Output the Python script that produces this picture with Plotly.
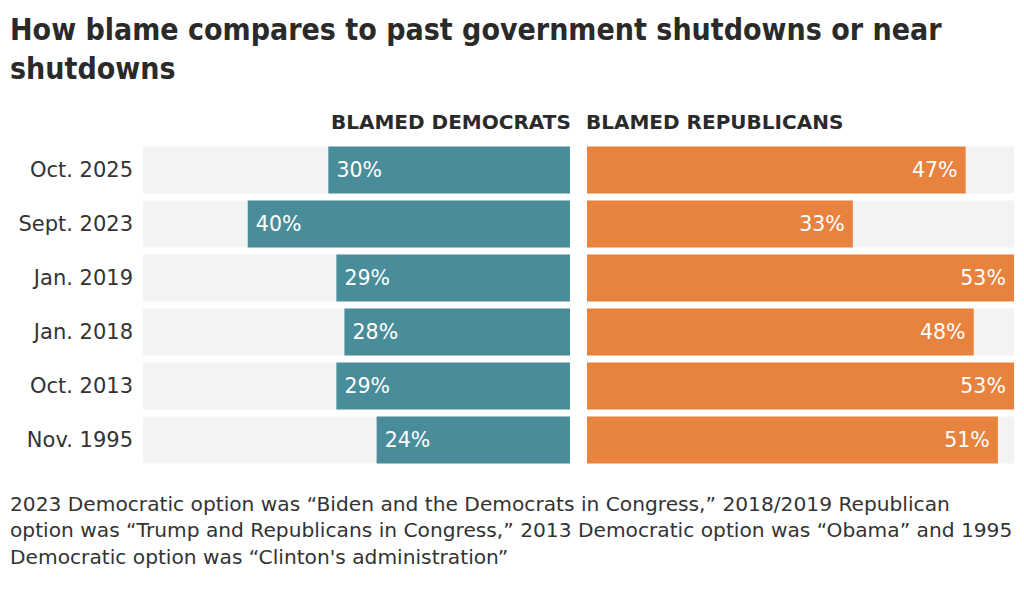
import plotly.graph_objects as go

categories = ["Oct. 2025", "Sept. 2023", "Jan. 2019", "Jan. 2018", "Oct. 2013", "Nov. 1995"]
blamed_democrats = [30, 40, 29, 28, 29, 24]
blamed_republicans = [47, 33, 53, 48, 53, 51]
axis_max = 53

FONT = "DejaVu Sans, sans-serif"
TITLE_FONT = "DejaVu Sans Condensed, DejaVu Sans, sans-serif"
TEAL = "#4a8d9a"
ORANGE = "#e8833f"
TRACK = "#f3f3f3"
PAD = "\u2005"  # small padding between bar tip and its label

# The page body has an 8px margin; the figure is sized so the page fits 1024x603 exactly.
OFF = 8
W, H = 1024 - 2 * OFF, 603 - 2 * OFF
PLOT_TOP, PLOT_BOT = 143, 467  # page pixels


def px(x):
    return (x - OFF) / W


def py(y):
    return (PLOT_BOT - y) / (PLOT_BOT - PLOT_TOP)


fig = go.Figure()
fig.add_trace(go.Bar(y=categories, x=[axis_max] * len(categories), orientation="h",
                     marker=dict(color=TRACK, line=dict(width=0)), xaxis="x", yaxis="y",
                     hoverinfo="skip", showlegend=False))
fig.add_trace(go.Bar(y=categories, x=[axis_max] * len(categories), orientation="h",
                     marker=dict(color=TRACK, line=dict(width=0)), xaxis="x2", yaxis="y2",
                     hoverinfo="skip", showlegend=False))
fig.add_trace(go.Bar(y=categories, x=blamed_democrats, orientation="h",
                     marker=dict(color=TEAL, line=dict(width=0)), xaxis="x", yaxis="y",
                     text=[f"{PAD}{v}%" for v in blamed_democrats], textposition="inside",
                     insidetextanchor="end", textangle=0,
                     textfont=dict(color="white", size=20.5, family=FONT),
                     showlegend=False, name="Blamed Democrats"))
fig.add_trace(go.Bar(y=categories, x=blamed_republicans, orientation="h",
                     marker=dict(color=ORANGE, line=dict(width=0)), xaxis="x2", yaxis="y2",
                     text=[f"{v}%{PAD}" for v in blamed_republicans], textposition="inside",
                     insidetextanchor="end", textangle=0,
                     textfont=dict(color="white", size=20.5, family=FONT),
                     showlegend=False, name="Blamed Republicans"))

fig.update_layout(
    width=W, height=H,
    barmode="overlay", bargap=0.13,
    plot_bgcolor="white", paper_bgcolor="white",
    margin=dict(l=0, r=0, t=PLOT_TOP - OFF, b=H - (PLOT_BOT - OFF)),
    font=dict(family=FONT, color="#333333"),
    xaxis=dict(domain=[px(143), px(570)], range=[axis_max, 0], visible=False, fixedrange=True),
    xaxis2=dict(domain=[px(587), px(1014)], range=[0, axis_max], visible=False, fixedrange=True),
    yaxis=dict(anchor="x", autorange="reversed", showgrid=False, zeroline=False, showline=False,
               ticks="", tickfont=dict(size=21, color="#333333", family=FONT), automargin=False,
               ticklabelstandoff=9),
    yaxis2=dict(anchor="x2", matches="y", autorange="reversed", showticklabels=False,
                showgrid=False, zeroline=False, showline=False),
    annotations=[
        dict(text="<b>How blame compares to past government shutdowns or near<br>shutdowns</b>",
             xref="paper", yref="paper", x=px(8), y=py(10), xanchor="left", yanchor="top",
             align="left", showarrow=False,
             font=dict(size=30, color="#2a2a2a", family=TITLE_FONT)),
        dict(text="<b>BLAMED DEMOCRATS</b>", x=px(573), xref="paper", y=py(122), yref="paper",
             xanchor="right", yanchor="middle", showarrow=False,
             font=dict(size=20, color="#2a2a2a", family=FONT)),
        dict(text="<b>BLAMED REPUBLICANS</b>", x=px(584), xref="paper", y=py(122), yref="paper",
             xanchor="left", yanchor="middle", showarrow=False,
             font=dict(size=20, color="#2a2a2a", family=FONT)),
        dict(text="2023 Democratic option was \u201cBiden and the Democrats in Congress,\u201d 2018/2019 Republican<br>"
                  "option was \u201cTrump and Republicans in Congress,\u201d 2013 Democratic option was \u201cObama\u201d and 1995<br>"
                  "Democratic option was \u201cClinton's administration\u201d",
             xref="paper", yref="paper", x=px(8), y=py(490), xanchor="left", yanchor="top",
             align="left", showarrow=False,
             font=dict(size=20.2, color="#333333", family=FONT)),
    ],
)

fig.write_html("out.html")
